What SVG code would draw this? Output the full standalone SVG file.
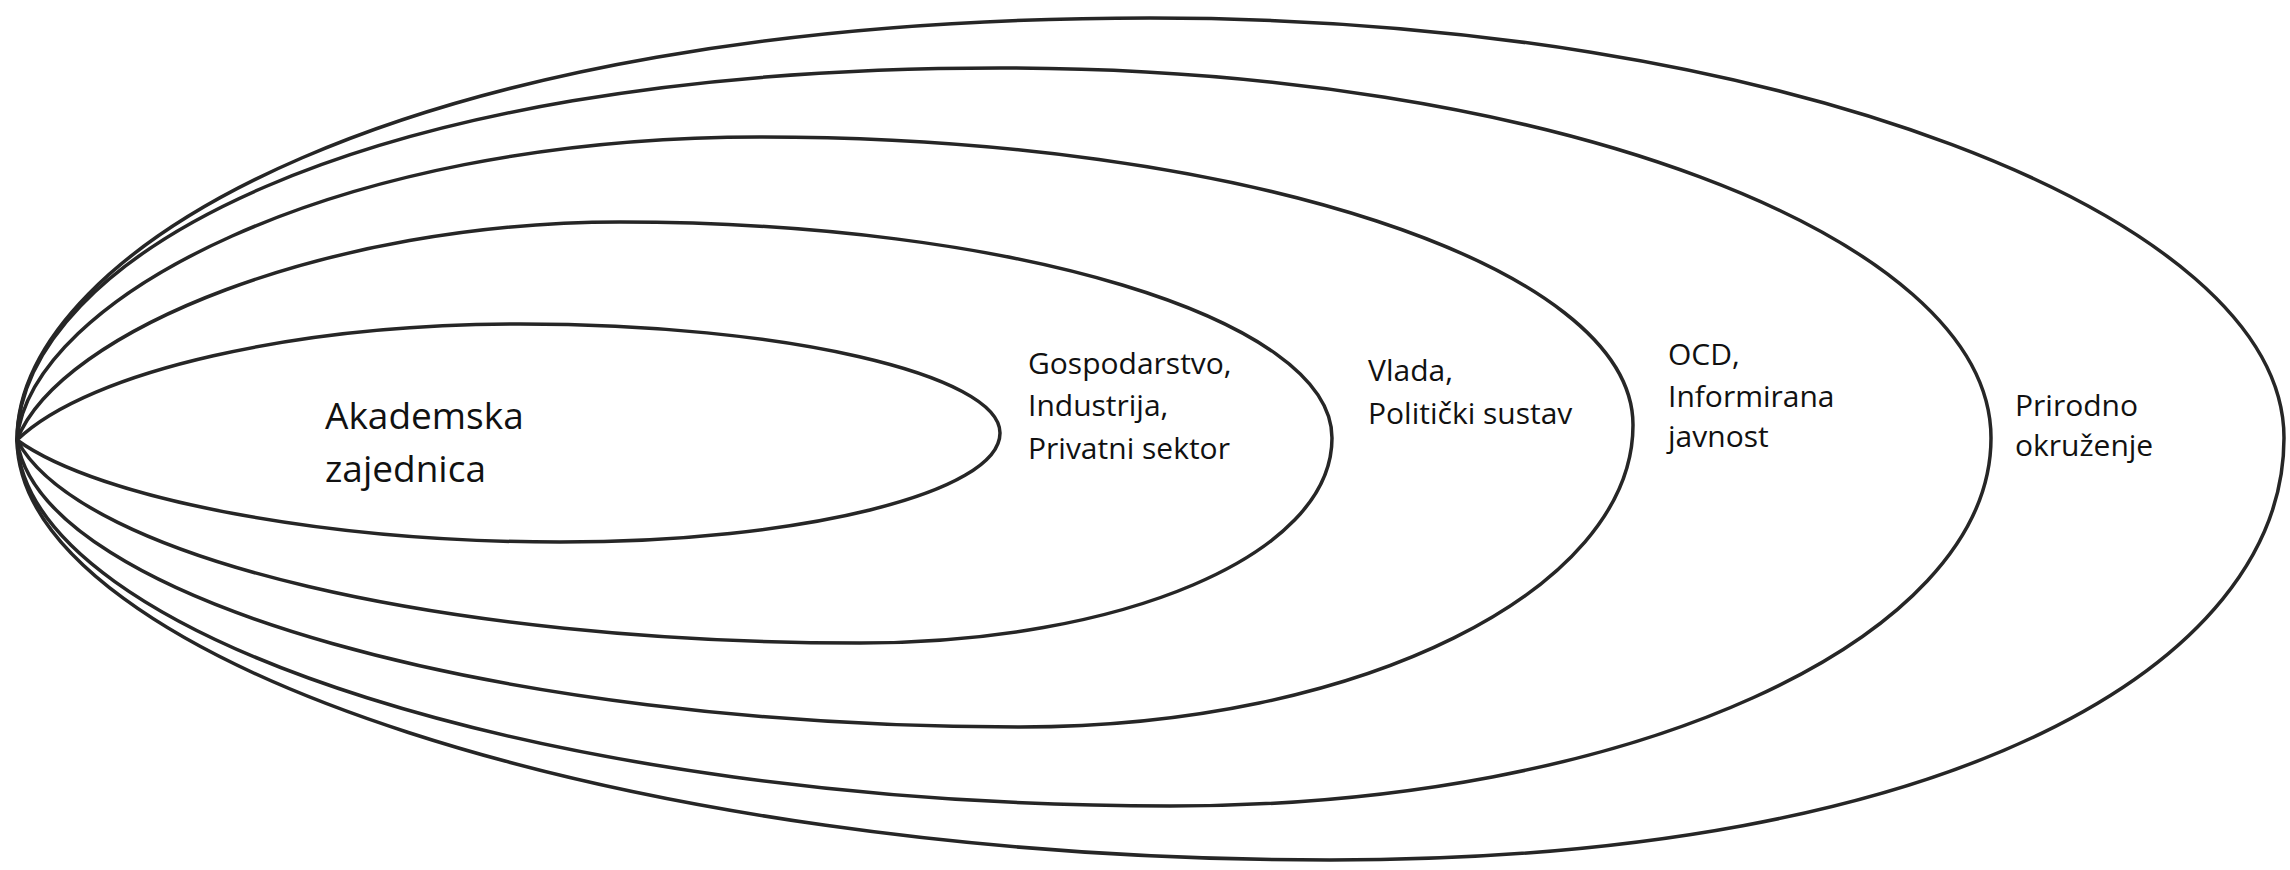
<svg xmlns="http://www.w3.org/2000/svg" width="2290" height="870" viewBox="0 0 2290 870">
<style>
.ring{fill:none;stroke:#262626;stroke-width:3.5;stroke-linejoin:round}
.lbl{font-family:"Open Sans","Noto Sans",sans-serif;font-size:30px;fill:#111}
.big{font-size:37px}
</style>
<rect width="2290" height="870" fill="#fff"/>
<g id="connectors"></g>
<g id="n5">
<path class="ring" d="M17,440 C17,250 400,18 1150,18 C1775,18 2284,215 2284,438 C2284,663 1955,860 1330,860 C620,860 20,660 17,440 Z"/>
<text class="lbl" x="2015" y="416">Prirodno</text>
<text class="lbl" x="2015" y="456">okruženje</text>
</g>
<g id="n4">
<path class="ring" d="M17,440 C20,260 350,68 1000,68 C1545,68 1991,235 1991,438 C1991,640 1630,806 1170,806 C560,806 25,640 17,440 Z"/>
<text class="lbl" x="1668" y="365">OCD,</text>
<text class="lbl" x="1668" y="407">Informirana</text>
<text class="lbl" x="1668" y="447">javnost</text>
</g>
<g id="n3">
<path class="ring" d="M17,440 C30,300 330,137 760,137 C1240,137 1633,265 1633,425 C1633,590 1360,727 1020,727 C500,727 40,600 17,440 Z"/>
<text class="lbl" x="1368" y="381">Vlada,</text>
<text class="lbl" x="1368" y="424">Politički sustav</text>
</g>
<g id="n2">
<path class="ring" d="M17,440 C60,330 330,222 620,222 C1010,222 1332,318 1332,438 C1332,556 1120,643 860,643 C450,643 80,560 17,440 Z"/>
<text class="lbl" x="1028" y="374">Gospodarstvo,</text>
<text class="lbl" x="1028" y="416">Industrija,</text>
<text class="lbl" x="1028" y="459">Privatni sektor</text>
</g>
<g id="n1">
<path class="ring" d="M17,440 C90,370 300,324 520,324 C785,324 1000,375 1000,433 C1000,493 800,542 560,542 C330,542 100,500 17,440 Z"/>
<text class="lbl big" x="325" y="429">Akademska</text>
<text class="lbl big" x="325" y="482">zajednica</text>
</g>
</svg>
